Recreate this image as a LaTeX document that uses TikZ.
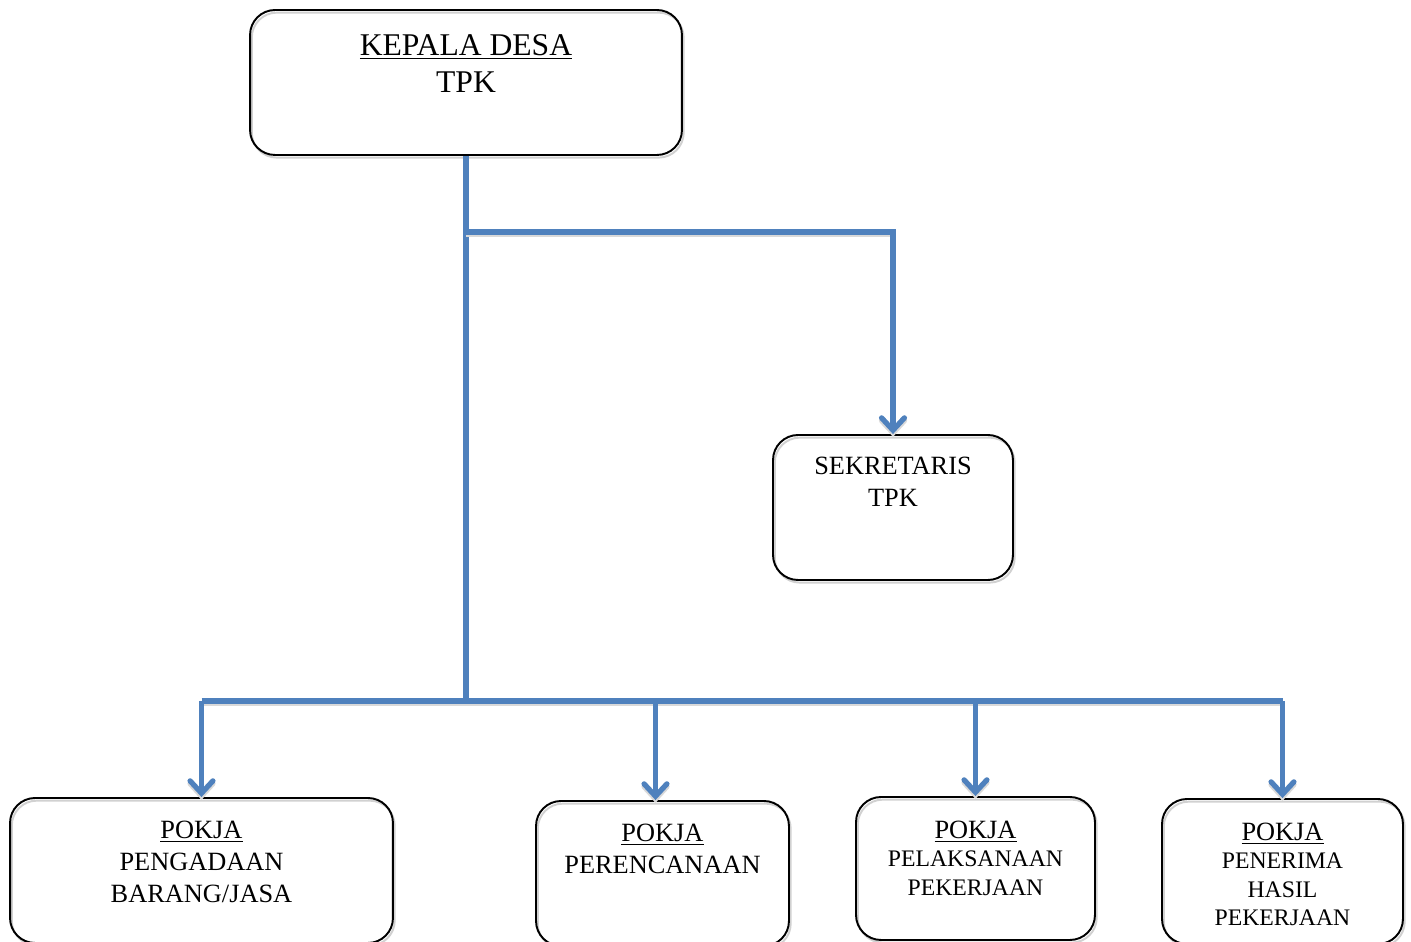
\documentclass[tikz,border=0pt]{standalone}
\usepackage{fontspec}
\setmainfont{Liberation Serif}
\usetikzlibrary{arrows.meta}

\definecolor{linkblue}{RGB}{79,129,189}

\tikzset{
  box/.style={draw=black, line width=1.1pt, rounded corners=0.5cm,
    preaction={draw=black!18, line width=1.1pt,
      transform canvas={shift={(1pt,-1.5pt)}}}},
  boxtext/.style={anchor=north, inner sep=0pt, align=center},
  link/.style={draw=linkblue, line width=3pt,
    preaction={draw=black!15, line width=3pt,
      transform canvas={yshift=-1.6pt}}},
  tip/.style={-{Straight Barb[length=7pt,width=13pt,line cap=round]}}
}

\newcommand{\pokjahead}{{\fontsize{15}{18}\selectfont\underline{POKJA}}}

\begin{document}
\begin{tikzpicture}[x=0.02cm, y=-0.02cm]

\useasboundingbox (0,0) rectangle (1411,942);

% Kotak
\node[box, minimum width=8.64cm, minimum height=2.9cm] (kades) at (466,82.5) {};
\node[box, minimum width=4.8cm, minimum height=2.9cm] (sekretaris) at (893,507.5) {};
\node[box, minimum width=7.66cm, minimum height=2.9cm] (pokja1) at (201.5,870.5) {};
\node[box, minimum width=5.06cm, minimum height=2.9cm] (pokja2) at (662.5,873.5) {};
\node[box, minimum width=4.78cm, minimum height=2.86cm] (pokja3) at (975.5,868.5) {};
\node[box, minimum width=4.82cm, minimum height=2.9cm] (pokja4) at (1282.5,871.5) {};

% Teks
\node[boxtext, font=\fontsize{18}{21}\selectfont] (kadestext) at (466,34.5)
  {\underline{KEPALA DESA}\\TPK};
\node[boxtext, font=\fontsize{15}{18}\selectfont] (sekretaristext) at (893,457)
  {SEKRETARIS\\TPK};
\node[boxtext, font=\fontsize{15}{18}\selectfont] (pokja1text) at (201.5,821)
  {\pokjahead\\PENGADAAN\\BARANG/JASA};
\node[boxtext, font=\fontsize{15}{18}\selectfont] (pokja2text) at (662.5,824)
  {\pokjahead\\PERENCANAAN};
\node[boxtext, font=\fontsize{13.5}{16}\selectfont] (pokja3text) at (975.5,821)
  {\pokjahead\\PELAKSANAAN\\PEKERJAAN};
\node[boxtext, font=\fontsize{13.5}{16}\selectfont] (pokja4text) at (1282.5,823)
  {\pokjahead\\PENERIMA\\HASIL\\PEKERJAAN};

% Garis
\coordinate (cab) at (466,232);
\coordinate (bus) at (466,701);

\draw[link] (kades.south) -- (bus);
\draw[link, tip] (cab) -| (sekretaris.north);
\draw[link] (pokja1.north |- bus) -- (pokja4.north |- bus);
\foreach \n in {pokja1, pokja3, pokja4}
  \draw[link, tip] (\n.north |- bus) -- (\n.north);
\draw[link, tip] ([xshift=-0.14cm]pokja2.north |- bus) -- ([xshift=-0.14cm]pokja2.north);

\end{tikzpicture}
\end{document}
